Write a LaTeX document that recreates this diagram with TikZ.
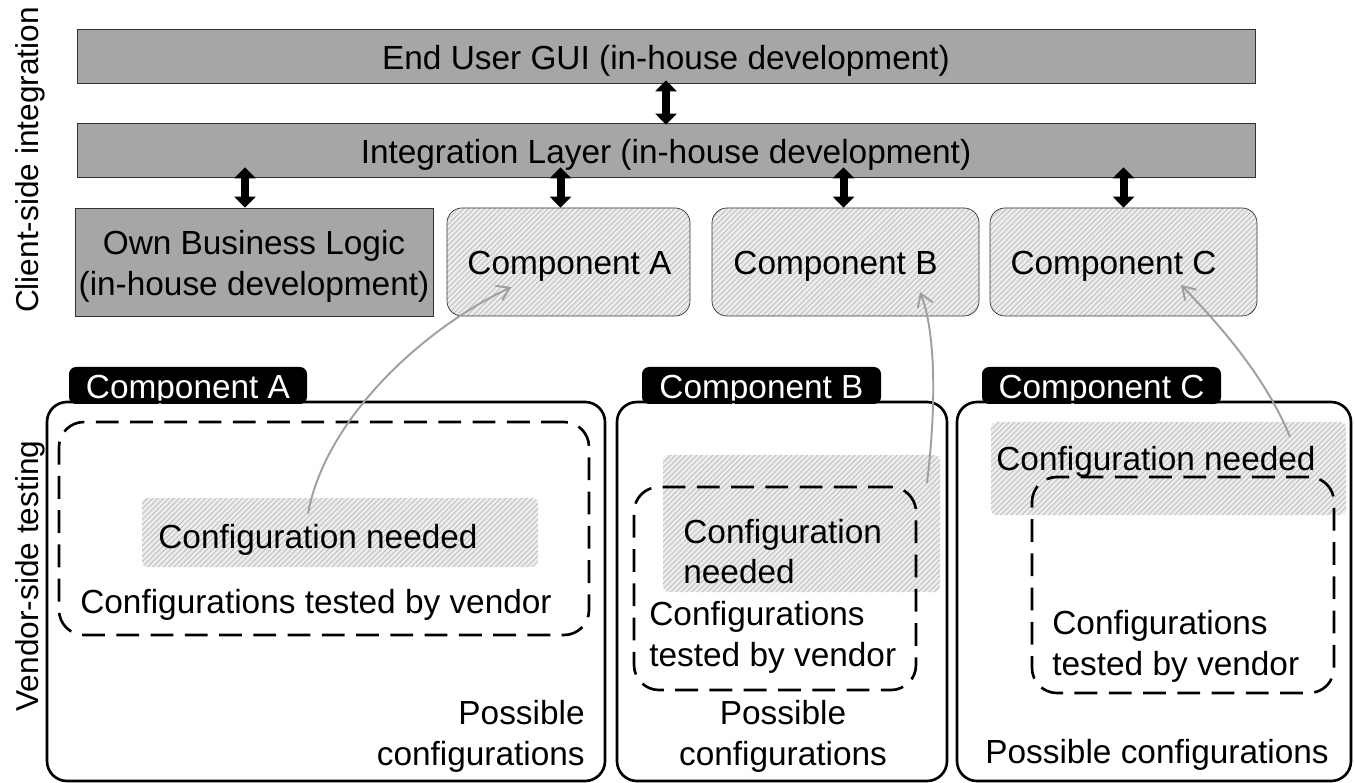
\documentclass[tikz,border=0pt]{standalone}
\usepackage{fontspec}
\setsansfont{Liberation Sans}
\usetikzlibrary{arrows.meta,patterns,fit}

\begin{document}
\begin{tikzpicture}[x=0.02cm,y=-0.02cm,font=\sffamily\fontsize{19}{23}\selectfont,
	layer/.style={draw=gray!40!black,fill=gray!70,inner sep=0},
	hatch/.style={preaction={fill=gray!15},pattern=north east lines,pattern color=gray!55},
	comp/.style={hatch,draw=gray!40!black,rounded corners=0.3cm,inner sep=0},
	panel/.style={draw,line width=1.5pt,rounded corners=0.4cm,inner sep=0},
	tab/.style={fill=black,rounded corners=4pt,inner sep=0},
	tested/.style={draw,line width=1.5pt,dash pattern=on 13pt off 6.5pt,rounded corners=0.5cm,inner sep=0},
	needed/.style={hatch,rounded corners=3pt,inner sep=0},
	txt/.style={inner sep=0,yshift=-0.09cm},
	side/.style={rotate=90,font=\sffamily\fontsize{18}{22}\selectfont},
	dbl/.style={{Triangle[width=0.42cm,length=0.22cm]}-{Triangle[width=0.42cm,length=0.22cm]},line width=0.16cm},
	cfg/.style={gray!75,line width=1.1pt,-{Straight Barb[length=7pt,width=9pt]}}]
	\useasboundingbox (0,0) rectangle (1355,783);
	% client side
	\node [side] (client) at (30,160) {Client-side integration};
	\node [layer,fit={(77,29) (1255,83)}] (gui) {};
	\node [layer,fit={(77,123) (1255,177)}] (integ) {};
	\node [layer,fit={(75,208) (433,316)}] (own) {};
	\node [comp,fit={(447,208) (690,316)}] (compA) {};
	\node [comp,fit={(712,208) (979,316)}] (compB) {};
	\node [comp,fit={(990,208) (1257,316)}] (compC) {};
	\node [txt] (guitxt) at (gui.center) {End User GUI (in-house development)};
	\node [txt] (integtxt) at (integ.center) {Integration Layer (in-house development)};
	\node [txt,align=center] (owntxt) at (own.center) {Own Business Logic\\(in-house development)};
	\node [txt] (compAtxt) at ([xshift=0.02cm]compA.center) {Component A};
	\node [txt] (compBtxt) at ([xshift=-0.2cm]compB.center) {Component B};
	\node [txt] (compCtxt) at ([xshift=-0.2cm]compC.center) {Component C};
	\draw [dbl] ([yshift=0.06cm]gui.south) -- ([yshift=-0.04cm]integ.north);
	\foreach \c/\dx in {own/-9,compA/-8,compB/-2,compC/0}
		\draw [dbl] ([xshift=\dx*0.02cm,yshift=0.2cm]\c.north |- integ.south) -- ([xshift=\dx*0.02cm]\c.north);
	% vendor side
	\node [side] (vendor) at (30,576) {Vendor-side testing};
	\node [tab,fit={(69,367) (307,404)}] (tabA) {};
	\node [tab,fit={(642,367) (881,404)}] (tabB) {};
	\node [tab,fit={(982,367) (1221,404)}] (tabC) {};
	\foreach \t/\l in {tabA/A,tabB/B,tabC/C}
		\node [txt,text=white] at (\t.center) {Component \l};
	\node [panel,fit={(47,402) (605,781)}] (panA) {};
	\node [panel,fit={(617,402) (947,781)}] (panB) {};
	\node [panel,fit={(957,402) (1351,781)}] (panC) {};
	\node [needed,fit={(142,498) (538,567)}] (needA) {};
	\node [needed,fit={(663,455) (940,592)}] (needB) {};
	\node [needed,fit={(991,422) (1346,515)}] (needC) {};
	\node [tested,fit={(59,422) (589,635)}] (testA) {};
	\node [tested,fit={(634,487) (916,690)}] (testB) {};
	\node [tested,fit={(1032,477) (1334,693)}] (testC) {};
	% texts
	\node [txt] (needAtxt) at (318,535) {Configuration needed};
	\node [txt] (testAtxt) at (316,600) {Configurations tested by vendor};
	\node [txt,align=right,anchor=east] (possA) at (585,732) {Possible\\configurations};
	\node [txt,align=left,anchor=west] (needBtxt) at (683,547) {Configuration\\needed};
	\node [txt,align=left,anchor=west] (testBtxt) at (649,633) {Configurations\\tested by vendor};
	\node [txt,align=center] (possB) at (783,732) {Possible\\configurations};
	\node [txt,anchor=west] (needCtxt) at (996,457) {Configuration needed};
	\node [txt,align=left,anchor=west] (testCtxt) at (1052,642) {Configurations\\tested by vendor};
	\node [txt] (possC) at (1157,750) {Possible configurations};
	% needed configuration -> component
	\draw [cfg] ([shift={(-32,-19)}]needA.center) .. controls +(17,-93) and +(-91,43) .. ([shift={(-57,25)}]compA.center);
	\draw [cfg] ([shift={(125.5,-40.5)}]needB.center) .. controls +(10,-83) and +(15,38) .. ([shift={(74.5,30)}]compB.center);
	\draw [cfg] ([shift={(121.5,-31.5)}]needC.center) .. controls +(-25,-62) and +(34,35) .. ([shift={(57.5,23)}]compC.center);
\end{tikzpicture}
\end{document}
